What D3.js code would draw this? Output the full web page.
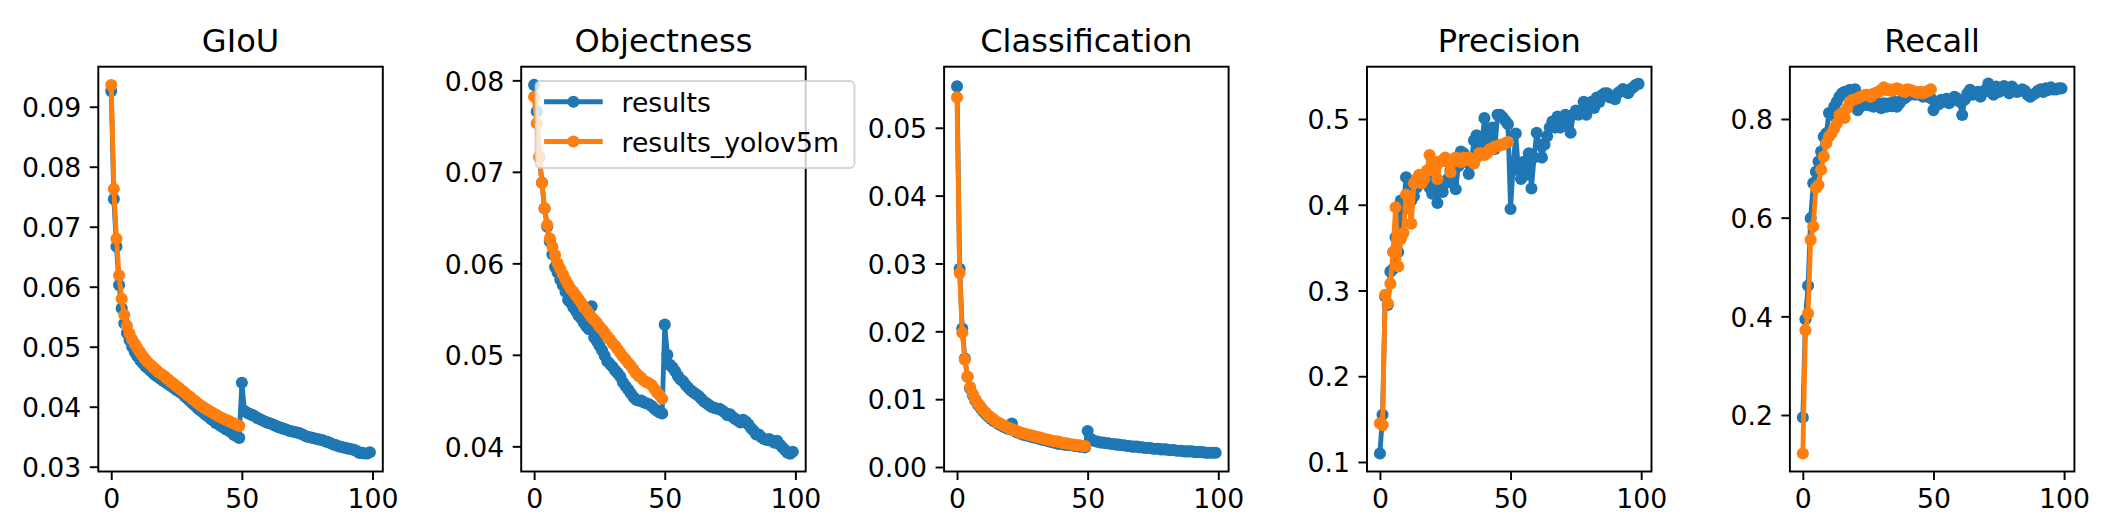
<!DOCTYPE html>
<html><head><meta charset="utf-8">
<script src="https://cdn.jsdelivr.net/npm/d3@7"></script>
<style>
body{margin:0;background:#fff}
svg{display:block}
text{font-family:"DejaVu Sans",sans-serif;fill:#000}
</style>
</head><body>
<svg id="chart" width="2101" height="521"></svg>
<script>
// ---------------- data ----------------
const titles = ["GIoU", "Objectness", "Classification", "Precision", "Recall"];
const seriesNames = ["results", "results_yolov5m"];
const xTickValues = [0, 50, 100];

const giouResults = [0.0926,0.0746,0.0667,0.0603,0.0564,0.0539,0.0523,0.0511,0.0500,0.0491,
0.0484,0.0478,0.0473,0.0468,0.0464,0.0460,0.0456,0.0452,0.0449,0.0446,
0.0443,0.0440,0.0437,0.0434,0.0431,0.0428,0.0425,0.0422,0.0418,0.0414,
0.0410,0.0406,0.0402,0.0398,0.0394,0.0391,0.0387,0.0384,0.0380,0.0377,
0.0373,0.0371,0.0368,0.0365,0.0362,0.0360,0.0357,0.0353,0.0351,0.0348,
0.0440,0.0393,0.0390,0.0388,0.0386,0.0384,0.0381,0.0379,0.0377,0.0375,
0.0373,0.0372,0.0370,0.0368,0.0366,0.0365,0.0363,0.0362,0.0360,0.0359,
0.0358,0.0357,0.0356,0.0354,0.0352,0.0350,0.0349,0.0348,0.0347,0.0346,
0.0345,0.0344,0.0342,0.0341,0.0339,0.0337,0.0336,0.0334,0.0333,0.0332,
0.0331,0.0330,0.0329,0.0328,0.0326,0.0323,0.0323,0.0322,0.0322,0.0324];
const giouYolov5m = [0.0936,0.0763,0.0680,0.0619,0.0580,0.0553,0.0535,0.0522,0.0512,0.0505,
0.0498,0.0491,0.0485,0.0479,0.0474,0.0470,0.0466,0.0462,0.0458,0.0455,
0.0452,0.0448,0.0445,0.0441,0.0438,0.0434,0.0431,0.0427,0.0424,0.0420,
0.0417,0.0413,0.0410,0.0406,0.0403,0.0400,0.0397,0.0394,0.0392,0.0389,
0.0387,0.0384,0.0382,0.0380,0.0378,0.0376,0.0374,0.0372,0.0370,0.0368];

const objResults = [0.0795,0.0766,0.0716,0.0688,0.0660,0.0640,0.0624,0.0610,0.0596,0.0590,
0.0582,0.0576,0.0569,0.0560,0.0557,0.0552,0.0548,0.0543,0.0540,0.0535,
0.0531,0.0528,0.0553,0.0519,0.0515,0.0510,0.0505,0.0499,0.0493,0.0490,
0.0487,0.0483,0.0480,0.0476,0.0470,0.0466,0.0462,0.0458,0.0454,0.0451,
0.0450,0.0450,0.0448,0.0447,0.0446,0.0444,0.0441,0.0439,0.0437,0.0436,
0.0533,0.0500,0.0489,0.0486,0.0482,0.0477,0.0473,0.0471,0.0467,0.0464,
0.0461,0.0459,0.0457,0.0455,0.0452,0.0449,0.0447,0.0445,0.0443,0.0442,
0.0441,0.0441,0.0439,0.0437,0.0434,0.0435,0.0432,0.0430,0.0428,0.0426,
0.0429,0.0427,0.0424,0.0420,0.0417,0.0413,0.0413,0.0410,0.0408,0.0407,
0.0408,0.0406,0.0404,0.0406,0.0402,0.0399,0.0396,0.0393,0.0392,0.0394];
const objYolov5m = [0.0782,0.0753,0.0717,0.0688,0.0660,0.0642,0.0627,0.0618,0.0609,0.0600,
0.0594,0.0588,0.0582,0.0577,0.0572,0.0569,0.0565,0.0561,0.0557,0.0552,
0.0549,0.0545,0.0541,0.0538,0.0535,0.0531,0.0528,0.0524,0.0520,0.0517,
0.0513,0.0510,0.0506,0.0502,0.0498,0.0495,0.0491,0.0488,0.0484,0.0480,
0.0477,0.0475,0.0472,0.0470,0.0469,0.0467,0.0463,0.0459,0.0456,0.0452];

const clsResults = [0.0561,0.0292,0.0204,0.0160,0.0133,0.0116,0.0106,0.0098,0.0092,0.0087,
0.0082,0.0078,0.0074,0.0071,0.0068,0.0066,0.0063,0.0061,0.0059,0.0057,
0.0056,0.0064,0.0053,0.0051,0.0050,0.0048,0.0047,0.0046,0.0045,0.0044,
0.0043,0.0042,0.0041,0.0040,0.0039,0.0038,0.0037,0.0036,0.0035,0.0034,
0.0034,0.0033,0.0033,0.0032,0.0032,0.0031,0.0031,0.0030,0.0030,0.0029,
0.0053,0.0042,0.0039,0.0038,0.0037,0.0036,0.0036,0.0035,0.0035,0.0034,
0.0034,0.0033,0.0033,0.0032,0.0032,0.0031,0.0031,0.0030,0.0030,0.0030,
0.0029,0.0029,0.0028,0.0028,0.0028,0.0027,0.0027,0.0027,0.0026,0.0026,
0.0026,0.0025,0.0025,0.0025,0.0024,0.0024,0.0024,0.0023,0.0023,0.0023,
0.0023,0.0022,0.0022,0.0022,0.0022,0.0021,0.0021,0.0021,0.0021,0.0021];
const clsYolov5m = [0.0545,0.0286,0.0198,0.0158,0.0133,0.0118,0.0108,0.0100,0.0094,0.0089,
0.0084,0.0080,0.0076,0.0073,0.0070,0.0067,0.0065,0.0063,0.0061,0.0059,
0.0057,0.0056,0.0054,0.0053,0.0051,0.0050,0.0049,0.0048,0.0047,0.0046,
0.0045,0.0044,0.0043,0.0042,0.0041,0.0040,0.0039,0.0038,0.0038,0.0037,
0.0036,0.0035,0.0035,0.0034,0.0033,0.0033,0.0032,0.0032,0.0031,0.0031];

const precResults = [0.110,0.155,0.293,0.283,0.322,0.325,0.362,0.345,0.405,0.395,
0.432,0.415,0.405,0.410,0.420,0.430,0.425,0.430,0.435,0.420,
0.413,0.425,0.402,0.420,0.415,0.425,0.430,0.440,0.425,0.418,
0.445,0.462,0.460,0.450,0.436,0.450,0.475,0.481,0.465,0.470,
0.501,0.480,0.475,0.490,0.465,0.505,0.505,0.502,0.498,0.494,
0.395,0.445,0.483,0.440,0.430,0.450,0.435,0.460,0.419,0.455,
0.484,0.470,0.455,0.470,0.480,0.490,0.497,0.490,0.503,0.490,
0.500,0.505,0.495,0.484,0.505,0.510,0.505,0.510,0.520,0.505,
0.515,0.520,0.513,0.525,0.520,0.528,0.530,0.530,0.525,0.525,
0.523,0.530,0.532,0.535,0.532,0.530,0.535,0.537,0.540,0.541];
const precYolov5m = [0.145,0.143,0.295,0.285,0.308,0.345,0.397,0.328,0.360,0.367,
0.412,0.405,0.378,0.425,0.430,0.435,0.425,0.430,0.440,0.458,
0.440,0.450,0.430,0.450,0.452,0.455,0.450,0.438,0.450,0.455,
0.452,0.450,0.455,0.452,0.455,0.452,0.448,0.455,0.460,0.460,
0.458,0.460,0.465,0.465,0.468,0.468,0.470,0.470,0.472,0.473];

const recResults = [0.195,0.394,0.462,0.599,0.670,0.693,0.714,0.734,0.764,0.771,
0.812,0.808,0.825,0.835,0.845,0.852,0.855,0.855,0.859,0.852,
0.860,0.818,0.825,0.828,0.835,0.828,0.832,0.825,0.828,0.832,
0.822,0.832,0.825,0.832,0.826,0.835,0.825,0.832,0.839,0.842,
0.847,0.849,0.851,0.849,0.852,0.849,0.845,0.847,0.845,0.842,
0.818,0.828,0.830,0.839,0.835,0.841,0.832,0.839,0.845,0.842,
0.835,0.808,0.839,0.852,0.859,0.849,0.852,0.855,0.845,0.855,
0.859,0.872,0.855,0.849,0.866,0.855,0.859,0.867,0.860,0.852,
0.866,0.860,0.855,0.857,0.860,0.857,0.849,0.845,0.849,0.852,
0.857,0.860,0.855,0.862,0.859,0.864,0.860,0.860,0.862,0.862];
const recYolov5m = [0.122,0.372,0.406,0.555,0.582,0.660,0.666,0.697,0.724,0.751,
0.764,0.771,0.781,0.791,0.808,0.812,0.802,0.822,0.835,0.839,
0.840,0.842,0.845,0.847,0.849,0.849,0.845,0.851,0.853,0.855,
0.859,0.864,0.859,0.860,0.857,0.860,0.862,0.860,0.857,0.855,
0.860,0.859,0.857,0.855,0.853,0.855,0.852,0.855,0.857,0.860];

const giouTicks = [0.03,0.04,0.05,0.06,0.07,0.08,0.09];
const objTicks = [0.04,0.05,0.06,0.07,0.08];
const clsTicks = [0.00,0.01,0.02,0.03,0.04,0.05];
const precTicks = [0.1,0.2,0.3,0.4,0.5];
const recTicks = [0.2,0.4,0.6,0.8];

// axis limits
const yLimits = [[0.0292,0.09667],[0.03725,0.08149],[-0.00066,0.0590],[0.0889,0.561],[0.0855,0.906]];
const xLimits = [-4.95, 103.95];

const panels = [
  {title: titles[0], series: [giouResults, giouYolov5m], ticks: giouTicks, fmt: ".2f"},
  {title: titles[1], series: [objResults, objYolov5m], ticks: objTicks, fmt: ".2f"},
  {title: titles[2], series: [clsResults, clsYolov5m], ticks: clsTicks, fmt: ".2f"},
  {title: titles[3], series: [precResults, precYolov5m], ticks: precTicks, fmt: ".1f"},
  {title: titles[4], series: [recResults, recYolov5m], ticks: recTicks, fmt: ".1f"}
];

// ---------------- layout / style ----------------
const colors = ["#1f77b4", "#ff7f0e"];
const L0 = 98.3, PITCH = 422.9, W = 284.5, TOP = 66.7, BOT = 471.5;
const FS = 26.7, TFS = 32.1, SPINE = 1.94, TICKLEN = 8.5;
const LW = 4.86, MR = 6.05;

const svg = d3.select("#chart");
svg.append("rect").attr("width", 2101).attr("height", 521).attr("fill", "#fff");

panels.forEach((p, k) => {
  const left = L0 + k * PITCH;
  const x = d3.scaleLinear().domain(xLimits).range([left, left + W]);
  const y = d3.scaleLinear().domain(yLimits[k]).range([BOT, TOP]);
  const g = svg.append("g");

  const clipId = "clip" + k;
  svg.append("defs").append("clipPath").attr("id", clipId)
    .append("rect").attr("x", left).attr("y", TOP).attr("width", W).attr("height", BOT - TOP);

  const plot = g.append("g").attr("clip-path", `url(#${clipId})`);
  p.series.forEach((vals, s) => {
    const pts = vals.map((v, i) => [i, v]);
    const line = d3.line().x(d => x(d[0])).y(d => y(d[1]));
    const sg = plot.append("g");
    sg.append("path").attr("d", line(pts)).attr("fill", "none")
      .attr("stroke", colors[s]).attr("stroke-width", LW)
      .attr("stroke-linejoin", "round").attr("stroke-linecap", "square");
    sg.selectAll("circle").data(pts).join("circle")
      .attr("cx", d => x(d[0])).attr("cy", d => y(d[1])).attr("r", MR)
      .attr("fill", colors[s]);
  });

  // frame
  g.append("rect").attr("x", left).attr("y", TOP).attr("width", W).attr("height", BOT - TOP)
    .attr("fill", "none").attr("stroke", "#000").attr("stroke-width", SPINE);

  // x axis
  const xa = g.append("g").attr("transform", `translate(0,${BOT})`)
    .call(d3.axisBottom(x).tickValues(xTickValues).tickSize(TICKLEN).tickPadding(9.5).tickFormat(d3.format("d")));
  xa.select(".domain").remove();
  xa.selectAll("line").attr("stroke", "#000").attr("stroke-width", SPINE);
  xa.selectAll("text").attr("font-size", FS).attr("font-family", "DejaVu Sans").attr("fill", "#000");

  // y axis
  const ya = g.append("g").attr("transform", `translate(${left},0)`)
    .call(d3.axisLeft(y).tickValues(p.ticks).tickSize(TICKLEN).tickPadding(8.5).tickFormat(d3.format(p.fmt)));
  ya.select(".domain").remove();
  ya.selectAll("line").attr("stroke", "#000").attr("stroke-width", SPINE);
  ya.selectAll("text").attr("font-size", FS).attr("font-family", "DejaVu Sans").attr("fill", "#000").attr("dy", "0.365em");

  // title
  g.append("text").attr("x", left + W / 2).attr("y", 52.2).attr("text-anchor", "middle")
    .attr("font-size", TFS).text(p.title);
});

// legend (belongs to the Objectness panel)
const lg = svg.append("g");
lg.append("rect").attr("x", 535.5).attr("y", 81).attr("width", 319).attr("height", 87)
  .attr("rx", 5).attr("fill", "#fff").attr("fill-opacity", 0.8)
  .attr("stroke", "#cccccc").attr("stroke-opacity", 0.8).attr("stroke-width", SPINE);
seriesNames.forEach((name, s) => {
  const ly = 101.7 + s * 39.8;
  lg.append("line").attr("x1", 546.5).attr("x2", 600.3).attr("y1", ly).attr("y2", ly)
    .attr("stroke", colors[s]).attr("stroke-width", LW).attr("stroke-linecap", "square");
  lg.append("circle").attr("cx", 573.4).attr("cy", ly).attr("r", MR).attr("fill", colors[s]);
  lg.append("text").attr("x", 621.5).attr("y", ly + 10).attr("font-size", FS).text(name);
});
</script>
</body></html>
